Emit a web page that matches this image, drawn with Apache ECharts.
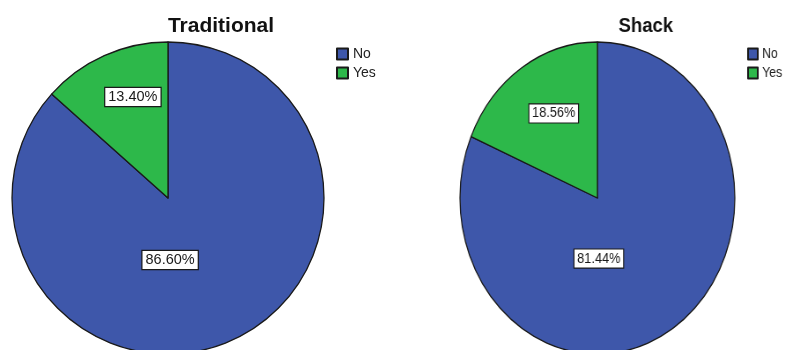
<!DOCTYPE html>
<html>
<head>
<meta charset="utf-8">
<script src="https://cdn.jsdelivr.net/npm/echarts@6/dist/echarts.min.js"></script>
<style>
  html, body { margin: 0; padding: 0; background: #ffffff; overflow: hidden; }
  #wrap { position: relative; width: 787px; height: 350px; overflow: hidden; }
  #left { position: absolute; left: 0; top: 0; width: 430px; height: 350px; }
  /* the Shack panel is drawn horizontally compressed */
  #right { position: absolute; left: 430px; top: 0; width: 420px; height: 350px;
           transform: scaleX(0.881); transform-origin: 0 0; }
</style>
</head>
<body>
<div id="wrap">
  <div id="left"></div>
  <div id="right"></div>
</div>
<script>
// Response categories and percentage shares per housing type
const categories = ['No', 'Yes'];
const traditionalShares = [86.60, 13.40];
const shackShares = [81.44, 18.56];
const panelTitles = ['Traditional', 'Shack'];

// Colours for the two answers
const sliceColors = ['#3e57aa', '#2db84a'];

// Label shifts (px) relative to the default inside-slice position
const traditionalLabelShift = [[-31, -12], [-2, -27]];
const shackLabelShift = [[-43, -7], [-5, -17]];

function buildOption(title, shares, shifts, cx, titleX, legendX) {
  return {
    animation: false,
    color: sliceColors,
    title: {
      text: title,
      left: titleX,
      top: 16,
      textAlign: 'center',
      padding: 0,
      textStyle: { fontFamily: 'Liberation Sans, Arial, sans-serif', fontSize: 21, fontWeight: 'bold', color: '#111' }
    },
    legend: {
      orient: 'vertical',
      left: legendX,
      top: 47,
      padding: 0,
      itemWidth: 11,
      itemHeight: 11,
      itemGap: 5,
      icon: 'rect',
      selectedMode: false,
      data: categories,
      textStyle: { fontFamily: 'Liberation Sans, Arial, sans-serif', fontSize: 14, color: '#222', padding: [0, 0, 0, 0] }
    },
    series: [{
      type: 'pie',
      center: [cx, 198],
      radius: [0, 156],
      startAngle: 90,
      clockwise: true,
      silent: true,
      itemStyle: { borderColor: '#1a1a1a', borderWidth: 1.3 },
      label: {
        show: true,
        position: 'inside',
        formatter: function (p) { return p.value.toFixed(2) + '%'; },
        fontFamily: 'Liberation Sans, Arial, sans-serif',
        fontSize: 14.5,
        color: '#1a1a1a',
        backgroundColor: '#ffffff',
        borderColor: '#1a1a1a',
        borderWidth: 1.2,
        padding: [2, 3, 1, 3]
      },
      labelLine: { show: false },
      labelLayout: function (params) {
        const s = shifts[params.dataIndex];
        return { dx: s[0], dy: s[1] };
      },
      data: categories.map(function (c, i) { return { name: c, value: shares[i] }; })
    }]
  };
}

const leftChart = echarts.init(document.getElementById('left'), null, { renderer: 'canvas' });
leftChart.setOption(buildOption(panelTitles[0], traditionalShares, traditionalLabelShift, 168, 221, 336));

const rightChart = echarts.init(document.getElementById('right'), null, { renderer: 'canvas' });
rightChart.setOption(buildOption(panelTitles[1], shackShares, shackLabelShift, 190, 245, 360));
</script>
</body>
</html>
